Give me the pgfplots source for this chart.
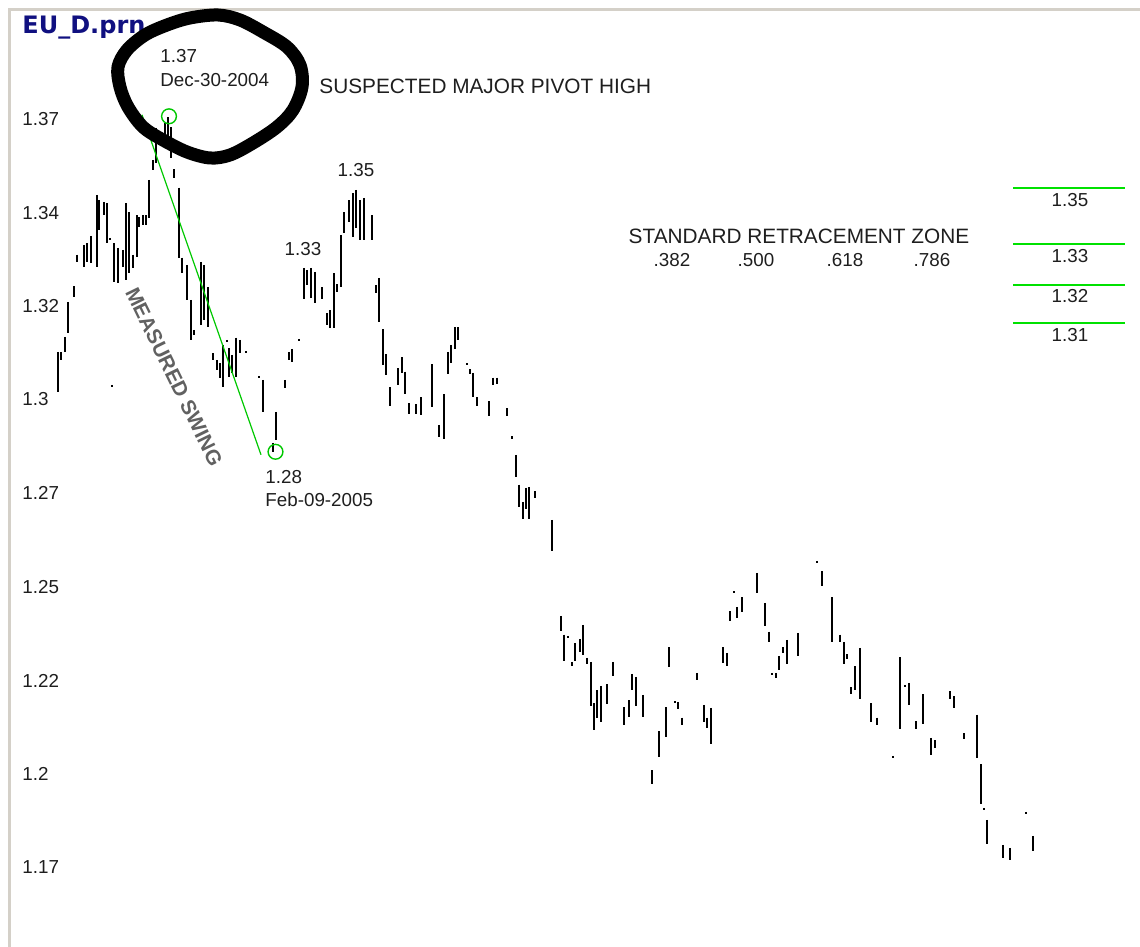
\documentclass[border=0pt]{standalone}
\usepackage{pgfplots}
\pgfplotsset{compat=1.18}
\usepackage{fontspec}
\setmainfont{Liberation Sans}
\newfontfamily\titlefont{DejaVu Sans}

\definecolor{fibgreen}{RGB}{0,225,0}
\definecolor{swinggreen}{RGB}{0,200,0}
\definecolor{framegray}{RGB}{212,208,200}
\definecolor{titleblue}{RGB}{16,16,128}
\definecolor{txt}{RGB}{30,30,30}

\newcommand\lblfont{\fontsize{9.4}{11}\selectfont}
\newcommand\capsfont{\fontsize{10.4}{12}\selectfont}

\begin{document}
\begin{tikzpicture}
\begin{axis}[
    name=ax,
    scale only axis,
    width=570pt, height=473.5pt,
    xmin=0, xmax=1140,
    ymin=1.14839, ymax=1.4016,
    axis lines=none,
    xtick=\empty, ytick=\empty,
]

% daily high-low bars (x = bar position, y = price)
\addplot[black, line width=1pt, unbounded coords=jump] coordinates {
(58,1.3075) (58,1.2968) (58,nan)
(61,1.3075) (61,1.3053) (61,nan)
(65,1.3115) (65,1.3075) (65,nan)
(68,1.3209) (68,1.3126) (68,nan)
(74,1.3251) (74,1.3222) (74,nan)
(77,1.3335) (77,1.3316) (77,nan)
(84,1.3361) (84,1.3302) (84,nan)
(87,1.3366) (87,1.3316) (87,nan)
(91,1.3385) (91,1.3313) (91,nan)
(97,1.3495) (97,1.3302) (97,nan)
(99,1.3481) (99,1.3401) (99,nan)
(104,1.3476) (104,1.3441) (104,nan)
(107,1.3473) (107,1.3366) (107,nan)
(110,1.3380) (110,1.3374) (110,nan)
(112,1.2987) (112,1.2981) (112,nan)
(114,1.3366) (114,1.3262) (114,nan)
(118,1.3353) (118,1.3259) (118,nan)
(123,1.3348) (123,1.3302) (123,nan)
(126,1.3473) (126,1.3267) (126,nan)
(129,1.3449) (129,1.3286) (129,nan)
(133,1.3335) (133,1.3300) (133,nan)
(137,1.3441) (137,1.3329) (137,nan)
(139,1.3435) (139,1.3409) (139,nan)
(143,1.3441) (143,1.3415) (143,nan)
(146,1.3441) (146,1.3415) (146,nan)
(149,1.3535) (149,1.3433) (149,nan)
(153,1.3588) (153,1.3561) (153,nan)
(156,1.3674) (156,1.3580) (156,nan)
(165,1.3687) (165,1.3642) (165,nan)
(168,1.3703) (168,1.3642) (168,nan)
(171,1.3676) (171,1.3594) (171,nan)
(174,1.3564) (174,1.3540) (174,nan)
(179,1.3514) (179,1.3327) (179,nan)
(182,1.3327) (182,1.3286) (182,nan)
(187,1.3308) (187,1.3214) (187,nan)
(191,1.3214) (191,1.3107) (191,nan)
(194,1.3134) (194,1.3121) (194,nan)
(201,1.3316) (201,1.3147) (201,nan)
(204,1.3308) (204,1.3160) (204,nan)
(208,1.3248) (208,1.3141) (208,nan)
(213,1.3072) (213,1.3053) (213,nan)
(217,1.3053) (217,1.3027) (217,nan)
(220,1.3045) (220,1.3006) (220,nan)
(223,1.3094) (223,1.2981) (223,nan)
(227,1.3107) (227,1.3102) (227,nan)
(229,1.3086) (229,1.3008) (229,nan)
(232,1.3067) (232,1.3019) (232,nan)
(236,1.3113) (236,1.3008) (236,nan)
(240,1.3107) (240,1.3072) (240,nan)
(246,1.3077) (246,1.3072) (246,nan)
(259,1.3011) (259,1.3006) (259,nan)
(263,1.3000) (263,1.2915) (263,nan)
(273,1.2832) (273,1.2808) (273,nan)
(276,1.2915) (276,1.2840) (276,nan)
(285,1.3000) (285,1.2979) (285,nan)
(289,1.3075) (289,1.3053) (289,nan)
(292,1.3083) (292,1.3048) (292,nan)
(299,1.3110) (299,1.3104) (299,nan)
(304,1.3300) (304,1.3217) (304,nan)
(307,1.3294) (307,1.3254) (307,nan)
(311,1.3300) (311,1.3220) (311,nan)
(315,1.3289) (315,1.3206) (315,nan)
(322,1.3248) (322,1.3217) (322,nan)
(327,1.3179) (327,1.3147) (327,nan)
(330,1.3187) (330,1.3139) (330,nan)
(334,1.3286) (334,1.3139) (334,nan)
(337,1.3256) (337,1.3236) (337,nan)
(341,1.3388) (341,1.3248) (341,nan)
(344,1.3449) (344,1.3393) (344,nan)
(349,1.3481) (349,1.3423) (349,nan)
(353,1.3500) (353,1.3382) (353,nan)
(356,1.3508) (356,1.3407) (356,nan)
(360,1.3481) (360,1.3374) (360,nan)
(364,1.3487) (364,1.3374) (364,nan)
(372,1.3441) (372,1.3374) (372,nan)
(376,1.3254) (376,1.3233) (376,nan)
(379,1.3273) (379,1.3155) (379,nan)
(383,1.3136) (383,1.3040) (383,nan)
(386,1.3069) (386,1.3014) (386,nan)
(390,1.2981) (390,1.2930) (390,nan)
(398,1.3032) (398,1.2987) (398,nan)
(402,1.3061) (402,1.3019) (402,nan)
(405,1.3022) (405,1.2962) (405,nan)
(409,1.2938) (409,1.2909) (409,nan)
(416,1.2935) (416,1.2909) (416,nan)
(421,1.2954) (421,1.2907) (421,nan)
(432,1.3042) (432,1.2927) (432,nan)
(439,1.2880) (439,1.2847) (439,nan)
(444,1.2962) (444,1.2842) (444,nan)
(448,1.3075) (448,1.3016) (448,nan)
(451,1.3094) (451,1.3045) (451,nan)
(455,1.3141) (455,1.3083) (455,nan)
(458,1.3141) (458,1.3107) (458,nan)
(467,1.3045) (467,1.3040) (467,nan)
(470,1.3029) (470,1.3016) (470,nan)
(473,1.3019) (473,1.2954) (473,nan)
(477,1.2954) (477,1.2930) (477,nan)
(489,1.2943) (489,1.2904) (489,nan)
(493,1.3006) (493,1.2987) (493,nan)
(497,1.3006) (497,1.2989) (497,nan)
(507,1.2925) (507,1.2904) (507,nan)
(512,1.2850) (512,1.2842) (512,nan)
(516,1.2800) (516,1.2740) (516,nan)
(519,1.2720) (519,1.2660) (519,nan)
(523,1.2674) (523,1.2628) (523,nan)
(526,1.2712) (526,1.2655) (526,nan)
(529,1.2714) (529,1.2628) (529,nan)
(535,1.2703) (535,1.2685) (535,nan)
(552,1.2626) (552,1.2542) (552,nan)
(561,1.2369) (561,1.2329) (561,nan)
(564,1.2319) (564,1.2248) (564,nan)
(568,1.2316) (568,1.2311) (568,nan)
(572,1.2246) (572,1.2235) (572,nan)
(575,1.2297) (575,1.2248) (575,nan)
(580,1.2308) (580,1.2273) (580,nan)
(583,1.2345) (583,1.2265) (583,nan)
(587,1.2257) (587,1.2240) (587,nan)
(591,1.2246) (591,1.2128) (591,nan)
(594,1.2136) (594,1.2064) (594,nan)
(597,1.2171) (597,1.2097) (597,nan)
(601,1.2182) (601,1.2086) (601,nan)
(607,1.2187) (607,1.2133) (607,nan)
(613,1.2246) (613,1.2209) (613,nan)
(624,1.2125) (624,1.2078) (624,nan)
(629,1.2144) (629,1.2099) (629,nan)
(632,1.2214) (632,1.2171) (632,nan)
(636,1.2206) (636,1.2128) (636,nan)
(643,1.2158) (643,1.2099) (643,nan)
(652,1.1957) (652,1.1919) (652,nan)
(659,1.2061) (659,1.1992) (659,nan)
(666,1.2125) (666,1.2045) (666,nan)
(669,1.2286) (669,1.2232) (669,nan)
(675,1.2141) (675,1.2136) (675,nan)
(678,1.2139) (678,1.2120) (678,nan)
(682,1.2097) (682,1.2078) (682,nan)
(697,1.2217) (697,1.2198) (697,nan)
(704,1.2131) (704,1.2086) (704,nan)
(707,1.2097) (707,1.2070) (707,nan)
(711,1.2123) (711,1.2026) (711,nan)
(723,1.2286) (723,1.2243) (723,nan)
(727,1.2270) (727,1.2235) (727,nan)
(730,1.2382) (730,1.2355) (730,nan)
(734,1.2435) (734,1.2430) (734,nan)
(737,1.2393) (737,1.2364) (737,nan)
(742,1.2419) (742,1.2380) (742,nan)
(757,1.2484) (757,1.2430) (757,nan)
(765,1.2404) (765,1.2342) (765,nan)
(769,1.2327) (769,1.2300) (769,nan)
(772,1.2217) (772,1.2212) (772,nan)
(776,1.2217) (776,1.2204) (776,nan)
(779,1.2262) (779,1.2225) (779,nan)
(783,1.2286) (783,1.2270) (783,nan)
(787,1.2305) (787,1.2240) (787,nan)
(798,1.2324) (798,1.2262) (798,nan)
(817,1.2516) (817,1.2511) (817,nan)
(822,1.2489) (822,1.2449) (822,nan)
(832,1.2419) (832,1.2300) (832,nan)
(840,1.2319) (840,1.2300) (840,nan)
(844,1.2300) (844,1.2240) (844,nan)
(847,1.2267) (847,1.2254) (847,nan)
(851,1.2179) (851,1.2160) (851,nan)
(855,1.2235) (855,1.2171) (855,nan)
(860,1.2284) (860,1.2147) (860,nan)
(871,1.2136) (871,1.2086) (871,nan)
(877,1.2097) (877,1.2078) (877,nan)
(893,1.1995) (893,1.1990) (893,nan)
(900,1.2259) (900,1.2067) (900,nan)
(905,1.2185) (905,1.2179) (905,nan)
(909,1.2190) (909,1.2131) (909,nan)
(916,1.2088) (916,1.2067) (916,nan)
(923,1.2160) (923,1.2080) (923,nan)
(931,1.2043) (931,1.1998) (931,nan)
(935,1.2037) (935,1.2016) (935,nan)
(950,1.2168) (950,1.2147) (950,nan)
(954,1.2155) (954,1.2123) (954,nan)
(964,1.2056) (964,1.2040) (964,nan)
(977,1.2105) (977,1.1990) (977,nan)
(981,1.1973) (981,1.1866) (981,nan)
(984,1.1856) (984,1.1850) (984,nan)
(987,1.1824) (987,1.1759) (987,nan)
(1003,1.1757) (1003,1.1722) (1003,nan)
(1010,1.1749) (1010,1.1717) (1010,nan)
(1026,1.1845) (1026,1.1840) (1026,nan)
(1033,1.1781) (1033,1.1740)
};

% measured swing
\addplot[swinggreen, line width=0.6pt] coordinates {(142,1.3709) (261,1.2800)};
\addplot[only marks, mark=o, mark size=3.7pt, swinggreen, mark options={line width=0.7pt}]
    coordinates {(169,1.3705) (275.5,1.2808)};

% retracement levels
\addplot[fibgreen, line width=1pt, unbounded coords=jump] coordinates {
(1013,1.3514) (1125,1.3514) (1125,nan)
(1013,1.3363) (1125,1.3363) (1125,nan)
(1013,1.3254) (1125,1.3254) (1125,nan)
(1013,1.3152) (1125,1.3152)
};
\end{axis}

\useasboundingbox (ax.south west) rectangle (ax.north east);

% annotations in pixel units from the top left corner
\begin{scope}[shift={(ax.north west)}, x=0.5pt, y=-0.5pt]
  \draw[framegray, line width=1.5pt] (9,947) -- (9,10) -- (1140,10);

  \node[anchor=west, inner sep=0, font=\titlefont\bfseries\fontsize{12}{14}\selectfont, text=titleblue]
    at (22,28) {EU\_D.prn};

  \foreach \yy/\lab in {119/1.37, 213/1.34, 306/1.32, 399/1.3, 493/1.27,
                       587/1.25, 681/1.22, 774/1.2, 867/1.17}
    \node[anchor=west, inner sep=0, font=\lblfont, text=txt] at (22,\yy) {\lab};

  \begin{scope}[every node/.style={inner sep=0, text=txt, font=\lblfont}]
    \node[anchor=west] at (160,56) {1.37};
    \node[anchor=west] at (160,80) {Dec-30-2004};
    \node at (356,170) {1.35};
    \node at (303,249) {1.33};
    \node[anchor=west] at (265,477) {1.28};
    \node[anchor=west] at (265,500) {Feb-09-2005};
    \node at (672,260) {.382};
    \node at (756,260) {.500};
    \node at (845,260) {.618};
    \node at (932,260) {.786};
    \node at (1070,200) {1.35};
    \node at (1070,256) {1.33};
    \node at (1070,296) {1.32};
    \node at (1070,335) {1.31};
    \node[anchor=west, font=\capsfont] at (319,86) {SUSPECTED MAJOR PIVOT HIGH};
    \node[font=\capsfont] at (799,236) {STANDARD RETRACEMENT ZONE};
    \node[font=\capsfont\bfseries, text=black!62, rotate=-64] at (174,377) {MEASURED SWING};
  \end{scope}

  % hand drawn ring round the pivot high
  \draw[black, line width=6.5pt, line join=round]
    plot[smooth cycle, tension=0.55] coordinates {
      (145,35) (127,50) (118,67) (120,87) (128,107) (143,127) (163,140)
      (187,152) (210,158) (230,155) (253,143) (277,127) (293,110) (302,87)
      (300,65) (287,47) (263,32) (240,20) (218,15) (190,18) (167,25)};
\end{scope}
\end{tikzpicture}
\end{document}
